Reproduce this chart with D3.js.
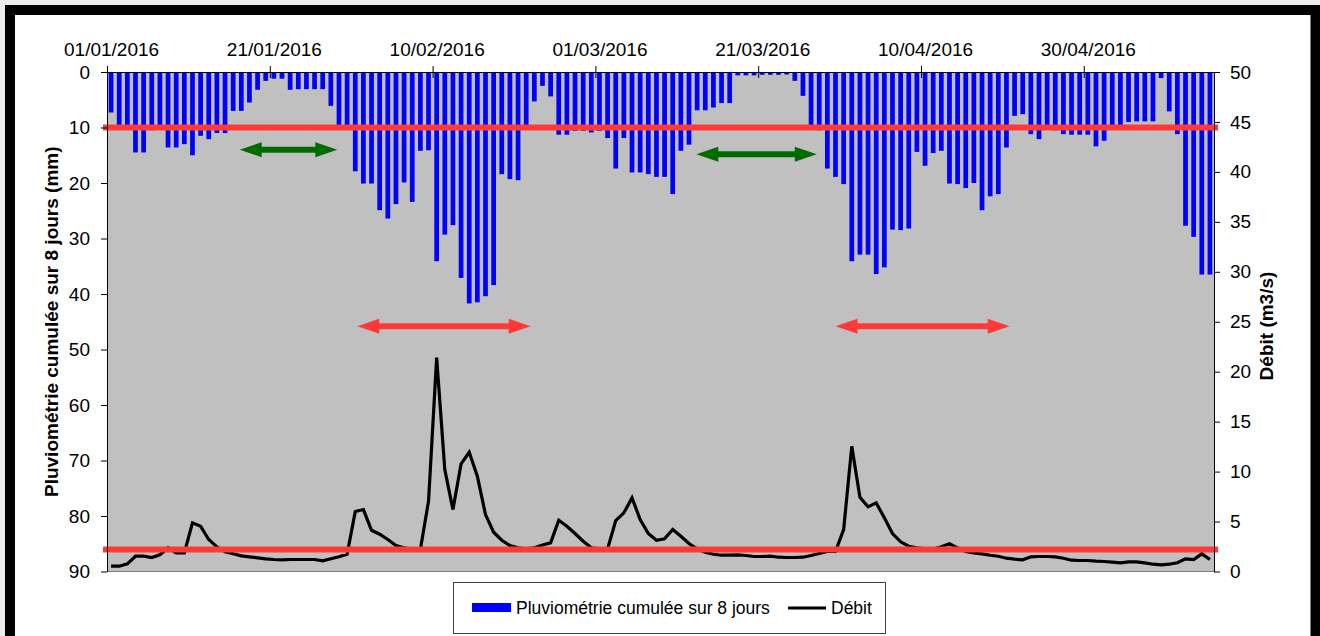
<!DOCTYPE html>
<html>
<head>
<meta charset="utf-8">
<script src="https://cdn.jsdelivr.net/npm/d3@7"></script>
<style>
    html, body { margin: 0; padding: 0; background: #ececec; }
    svg { display: block; font-family: "Liberation Sans", Arial, sans-serif; }
</style>
</head>
<body>
<svg id="chart" width="1320" height="636"></svg>
<script>
"use strict"

// first day of the series, one value per day
let startDay = "01/01/2016";

let dateTicks = ["01/01/2016", "21/01/2016", "10/02/2016", "01/03/2016", "21/03/2016", "10/04/2016", "30/04/2016"];

// cumulated rainfall over 8 days (mm)
let pluie = [
    7.3, 9.8, 9.8, 14.5, 14.5, 10.5, 10.4, 13.6, 13.6, 13.0,
    15.0, 11.5, 12.1, 11.0, 11.0, 7.0, 7.0, 5.5, 3.2, 1.6,
    1.2, 1.2, 3.2, 3.1, 3.1, 3.1, 3.1, 6.1, 9.7, 9.7,
    17.9, 20.1, 20.1, 24.9, 26.4, 23.8, 19.9, 23.4, 14.2, 14.1,
    34.1, 29.3, 27.6, 37.1, 41.7, 41.5, 40.4, 38.4, 18.4, 19.3,
    19.5, 9.8, 5.3, 2.5, 4.4, 11.3, 11.3, 10.6, 10.6, 10.9,
    10.6, 11.9, 17.4, 11.9, 18.1, 18.1, 18.4, 18.9, 18.9, 22.0,
    14.2, 13.1, 6.9, 6.9, 6.4, 5.6, 5.6, 0.6, 0.6, 0.6,
    0.5, 0.5, 0.5, 0.45, 1.6, 4.3, 9.8, 10.5, 17.4, 18.9,
    20.2, 34.1, 32.9, 32.9, 36.4, 35.2, 28.4, 28.5, 28.2, 14.4,
    16.9, 14.6, 14.2, 20.1, 20.2, 20.9, 20.0, 24.9, 22.4, 22.0,
    13.6, 7.9, 7.6, 11.2, 12.1, 9.7, 10.5, 11.2, 11.3, 11.3,
    11.3, 13.4, 12.4, 10.4, 9.8, 9.0, 8.9, 8.9, 8.9, 1.1,
    7.1, 11.2, 27.7, 29.7, 36.5, 36.5
];

// river flow (m3/s)
let debit = [
    0.53, 0.53, 0.77, 1.53, 1.53, 1.4, 1.67, 2.37, 1.87, 1.87,
    4.87, 4.53, 3.2, 2.47, 1.97, 1.77, 1.57, 1.47, 1.37, 1.27,
    1.2, 1.17, 1.2, 1.2, 1.2, 1.2, 1.07, 1.27, 1.47, 1.73,
    6.0, 6.2, 4.13, 3.73, 3.2, 2.6, 2.37, 2.2, 2.2, 7.03,
    21.4, 10.2, 6.2, 10.77, 11.93, 9.53, 5.7, 3.93, 3.13, 2.6,
    2.37, 2.27, 2.37, 2.65, 2.87, 5.13, 4.53, 3.8, 3.03, 2.37,
    2.27, 2.27, 5.1, 5.87, 7.37, 5.2, 3.8, 3.13, 3.27, 4.2,
    3.53, 2.8, 2.27, 1.93, 1.73, 1.63, 1.63, 1.67, 1.6, 1.5,
    1.5, 1.53, 1.43, 1.4, 1.4, 1.43, 1.6, 1.8, 2.0, 2.0,
    4.2, 12.53, 7.43, 6.47, 6.87, 5.37, 3.8, 2.97, 2.53, 2.37,
    2.27, 2.25, 2.47, 2.77, 2.37, 2.0, 1.87, 1.77, 1.63, 1.53,
    1.33, 1.23, 1.17, 1.47, 1.5, 1.5, 1.47, 1.33, 1.13, 1.1,
    1.1, 1.03, 1.0, 0.93, 0.87, 0.97, 0.97, 0.87, 0.73, 0.67,
    0.73, 0.87, 1.27, 1.2, 1.77, 1.2
];

// thresholds: rainfall (mm, left axis) and flow (m3/s, right axis)
let seuilPluie = 10;
let seuilDebit = 2.2;

// annotation arrows: [from day, to day, rainfall level in mm]
let flechesVertes = [[16.3, 28.3, 14.0], [72.4, 87.2, 14.8]];
let flechesRouges = [[30.75, 52.05, 45.8], [89.5, 110.9, 45.8]];

let svg = d3.select("#chart");
let parseDate = d3.timeParse("%d/%m/%Y");
let t0 = parseDate(startDay);
let dates = pluie.map((d, i) => d3.timeDay.offset(t0, i));
let dayToDate = (d) => new Date(t0.getTime() + d * 864e5);

let plot = { left: 107, right: 1214, top: 72, bottom: 571.5 };

// frame
svg.append("rect")
    .attr("x", 10)
    .attr("y", 10)
    .attr("width", 1305.5)
    .attr("height", 640)
    .style("fill", "#ffffff")
    .style("stroke", "#000000")
    .style("stroke-width", 10);

let x = d3.scaleTime()
    .domain([t0, d3.timeDay.offset(t0, pluie.length)])
    .range([plot.left, plot.right]);

let dayW = x(dates[1]) - x(dates[0]);
let barW = dayW * 0.58;

let yPluie = d3.scaleLinear()
    .domain([0, 90])
    .range([plot.top, plot.bottom]);

let yDebit = d3.scaleLinear()
    .domain([0, 50])
    .range([plot.bottom, plot.top]);

// plot area
svg.append("rect")
    .attr("x", plot.left)
    .attr("y", plot.top)
    .attr("width", plot.right - plot.left)
    .attr("height", plot.bottom - plot.top)
    .style("fill", "#c0c0c0");

svg.append("line")
    .attr("x1", plot.left)
    .attr("x2", plot.right)
    .attr("y1", plot.bottom)
    .attr("y2", plot.bottom)
    .style("stroke", "#808080")
    .style("stroke-width", 1);

// rainfall bars hanging from the top
svg.append("g")
    .selectAll("rect")
    .data(pluie)
    .join("rect")
    .attr("x", (d, i) => x(dates[i]) + (dayW - barW) / 2)
    .attr("y", yPluie(0))
    .attr("width", barW)
    .attr("height", (d) => yPluie(d) - yPluie(0))
    .style("fill", "#0000ff");

// flow line
let line = d3.line()
    .x((d, i) => x(dates[i]) + dayW / 2)
    .y((d) => yDebit(d));

svg.append("path")
    .datum(debit)
    .attr("d", line)
    .style("fill", "none")
    .style("stroke", "#000000")
    .style("stroke-width", 3.2);

// threshold lines
svg.append("line")
    .attr("x1", plot.left - 4)
    .attr("x2", plot.right + 4)
    .attr("y1", yPluie(seuilPluie))
    .attr("y2", yPluie(seuilPluie))
    .style("stroke", "#ff3838")
    .style("stroke-width", 6);

svg.append("line")
    .attr("x1", plot.left - 4)
    .attr("x2", plot.right + 4)
    .attr("y1", yDebit(seuilDebit))
    .attr("y2", yDebit(seuilDebit))
    .style("stroke", "#ff3838")
    .style("stroke-width", 6);

// double headed arrows
function drawArrow(a, color) {
    let x1 = x(dayToDate(a[0]));
    let x2 = x(dayToDate(a[1]));
    let yy = yPluie(a[2]);
    let headL = 22, headH = 7.5, shaft = 3;
    let pts = [
        [x1, yy],
        [x1 + headL, yy - headH],
        [x1 + headL, yy - shaft],
        [x2 - headL, yy - shaft],
        [x2 - headL, yy - headH],
        [x2, yy],
        [x2 - headL, yy + headH],
        [x2 - headL, yy + shaft],
        [x1 + headL, yy + shaft],
        [x1 + headL, yy + headH]
    ];
    svg.append("path")
        .attr("d", "M" + pts.map((p) => p.join(",")).join("L") + "Z")
        .style("fill", color);
}

flechesVertes.forEach((a) => drawArrow(a, "#006c00"));
flechesRouges.forEach((a) => drawArrow(a, "#ff3838"));

// axes
let axisTop = svg.append("g")
    .attr("transform", "translate(0," + plot.top + ")")
    .call(d3.axisTop(x)
        .tickValues(dateTicks.map(parseDate))
        .tickFormat(d3.timeFormat("%d/%m/%Y"))
        .tickSizeInner(6)
        .tickSizeOuter(0));

axisTop.selectAll(".tick line")
    .attr("y1", 6);
axisTop.selectAll(".tick text")
    .attr("x", dayW / 2)
    .attr("y", -16);

let axisLeft = svg.append("g")
    .attr("transform", "translate(" + plot.left + ",0)")
    .call(d3.axisLeft(yPluie)
        .tickValues(d3.range(0, 91, 10))
        .tickSizeInner(6)
        .tickSizeOuter(0)
        .tickPadding(11));

let axisRight = svg.append("g")
    .attr("transform", "translate(" + plot.right + ",0)")
    .call(d3.axisRight(yDebit)
        .tickValues(d3.range(0, 51, 5))
        .tickSizeInner(6)
        .tickSizeOuter(0)
        .tickPadding(10));

[axisTop, axisLeft, axisRight].forEach((g) => {
    g.selectAll("text")
        .style("font-size", "19px")
        .style("fill", "#000000")
        .style("font-family", "'Liberation Sans', Arial, sans-serif");
    g.select(".domain").style("stroke", "#000000");
});

// axis titles
svg.append("text")
    .attr("transform", "translate(58," + (plot.top + plot.bottom) / 2 + ") rotate(-90)")
    .style("text-anchor", "middle")
    .style("font-size", "19px")
    .style("font-weight", "bold")
    .text("Pluviométrie cumulée sur 8 jours (mm)");

svg.append("text")
    .attr("transform", "translate(1273,326) rotate(-90)")
    .style("text-anchor", "middle")
    .style("font-size", "19px")
    .style("font-weight", "bold")
    .text("Débit (m3/s)");

// legend
let legend = svg.append("g");

legend.append("rect")
    .attr("x", 453.5)
    .attr("y", 582.5)
    .attr("width", 432)
    .attr("height", 51)
    .style("fill", "#ffffff")
    .style("stroke", "#404040")
    .style("stroke-width", 1);

legend.append("rect")
    .attr("x", 472)
    .attr("y", 603)
    .attr("width", 39)
    .attr("height", 9)
    .style("fill", "#0000ff");

legend.append("text")
    .attr("x", 516)
    .attr("y", 614)
    .style("font-size", "17.5px")
    .text("Pluviométrie cumulée sur 8 jours");

legend.append("line")
    .attr("x1", 788)
    .attr("x2", 826)
    .attr("y1", 608)
    .attr("y2", 608)
    .style("stroke", "#000000")
    .style("stroke-width", 3);

legend.append("text")
    .attr("x", 831)
    .attr("y", 614)
    .style("font-size", "17.5px")
    .text("Débit");
</script>
</body>
</html>
